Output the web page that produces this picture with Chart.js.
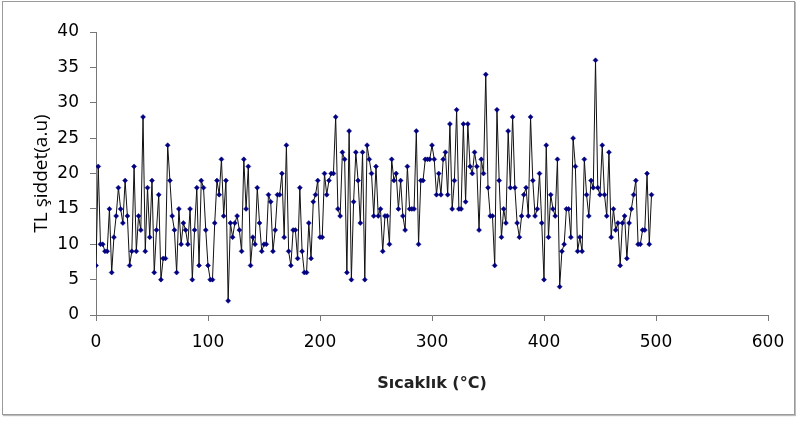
<!DOCTYPE html>
<html><head><meta charset="utf-8">
<script src="https://cdn.jsdelivr.net/npm/chart.js@4.4.1/dist/chart.umd.min.js"></script>
<style>
html,body{margin:0;padding:0;background:#fff;}
#wrap{position:relative;width:796px;height:421px;overflow:hidden;background:#fff;}
#frame{position:absolute;left:2px;top:1px;width:791px;height:412px;border:1px solid #9a9a9a;box-shadow:1px 1px 1px #bbb;}
canvas{position:absolute;left:0;top:0;}
</style></head><body>
<div id="wrap"><div id="frame"></div><canvas id="c" width="796" height="421"></canvas></div>
<script>
// Temperature (°C) categories
const temperatures = [
0,2,4,6,8,10,12,14,16,18,20,22,24,26,28,30,32,34,36,38,40,42,44,46,48,50,52,54,56,58,
60,62,64,66,68,70,72,74,76,78,80,82,84,86,88,90,92,94,96,98,100,102,104,106,108,110,112,114,116,118,
120,122,124,126,128,130,132,134,136,138,140,142,144,146,148,150,152,154,156,158,160,162,164,166,168,170,172,174,176,178,
180,182,184,186,188,190,192,194,196,198,200,202,204,206,208,210,212,214,216,218,220,222,224,226,228,230,232,234,236,238,
240,242,244,246,248,250,252,254,256,258,260,262,264,266,268,270,272,274,276,278,280,282,284,286,288,290,292,294,296,298,
300,302,304,306,308,310,312,314,316,318,320,322,324,326,328,330,332,334,336,338,340,342,344,346,348,350,352,354,356,358,
360,362,364,366,368,370,372,374,376,378,380,382,384,386,388,390,392,394,396,398,400,402,404,406,408,410,412,414,416,418,
420,422,424,426,428,430,432,434,436,438,440,442,444,446,448,450,452,454,456,458,460,462,464,466,468,470,472,474,476,478,
480,482,484,486,488,490,492,494,496
];
// TL intensity (a.u)
const intensity = [
7,21,10,10,9,9,15,6,11,14,18,15,13,19,14,7,9,21,9,14,12,28,9,18,11,19,6,12,17,5,8,8,24,19,14,12,6,15,10,13,12,
10,15,5,12,18,7,19,18,12,7,5,5,13,19,17,22,14,19,2,13,11,13,14,12,9,22,15,21,7,11,10,18,13,9,10,10,17,16,9,12,17,17,20,11,
24,9,7,12,12,8,18,9,6,6,13,8,16,17,19,11,11,20,17,19,20,20,28,15,14,23,22,6,26,5,16,23,19,13,23,5,24,22,20,14,21,14,
15,9,14,14,10,22,19,20,15,19,14,12,21,15,15,15,26,10,19,19,22,22,22,24,22,17,20,17,22,23,17,27,15,19,29,15,15,27,16,27,21,20,23,21,
12,22,20,34,18,14,14,7,29,19,11,15,13,26,18,28,18,13,11,14,17,18,14,28,19,14,15,20,13,5,24,11,17,15,14,22,4,9,10,15,15,11,25,
21,9,11,9,22,17,14,19,18,36,18,17,24,17,14,23,11,15,12,13,7,13,14,8,13,15,17,19,10,10,12,12,20,10,17
];
const xTicks = [0,100,200,300,400,500,600];
const yTicks = [0,5,10,15,20,25,30,35,40];

const points = temperatures.map((t,i)=>({x:t, y:intensity[i]}));

new Chart(document.getElementById('c'), {
  type: 'line',
  data: { datasets: [{
    data: points,
    showLine: true,
    borderColor: '#111111',
    borderWidth: 1,
    tension: 0,
    segment: { borderColor: () => undefined },
    pointStyle: 'rectRot',
    pointRadius: 2.5,
    pointBackgroundColor: '#000080',
    pointBorderColor: '#000080',
    pointBorderWidth: 0.5,
    fill: false
  }]},
  options: {
    responsive: false,
    animation: false,
    layout: { padding: { top: 32, right: 28, left: 0, bottom: 0 } },
    plugins: { legend: { display: false }, tooltip: { enabled: false } },
    scales: {
      x: {
        type: 'linear', min: xTicks[0], max: xTicks[xTicks.length-1],
        afterBuildTicks: s => { s.ticks = xTicks.map(v=>({value:v})); },
        afterFit: s => { s.height = 106; },
        ticks: { font: { family: 'DejaVu Sans', size: 17 }, color: '#000', padding: 11, maxRotation: 0 },
        grid: { drawOnChartArea: false, drawTicks: true, tickLength: 6, color: '#777' },
        border: { color: '#777', width: 1 },
        title: { display: true, text: 'Sıcaklık (°C)', color: '#222',
          font: { family: 'DejaVu Sans', size: 16, weight: 'bold' }, padding: { top: 0, bottom: 28 } }
      },
      y: {
        type: 'linear', min: yTicks[0], max: yTicks[yTicks.length-1],
        afterBuildTicks: s => { s.ticks = yTicks.map(v=>({value:v})); },
        afterFit: s => { s.width = 96; },
        ticks: { font: { family: 'DejaVu Sans', size: 17 }, color: '#000', padding: 11 },
        grid: { drawOnChartArea: false, drawTicks: true, tickLength: 6, color: '#777' },
        border: { color: '#777', width: 1 },
        title: { display: true, text: 'TL şiddet(a.u)', color: '#000',
          font: { family: 'Open Sans', size: 19 }, padding: { top: 30, bottom: 0 } }
      }
    }
  }
});
</script>
</body></html>
